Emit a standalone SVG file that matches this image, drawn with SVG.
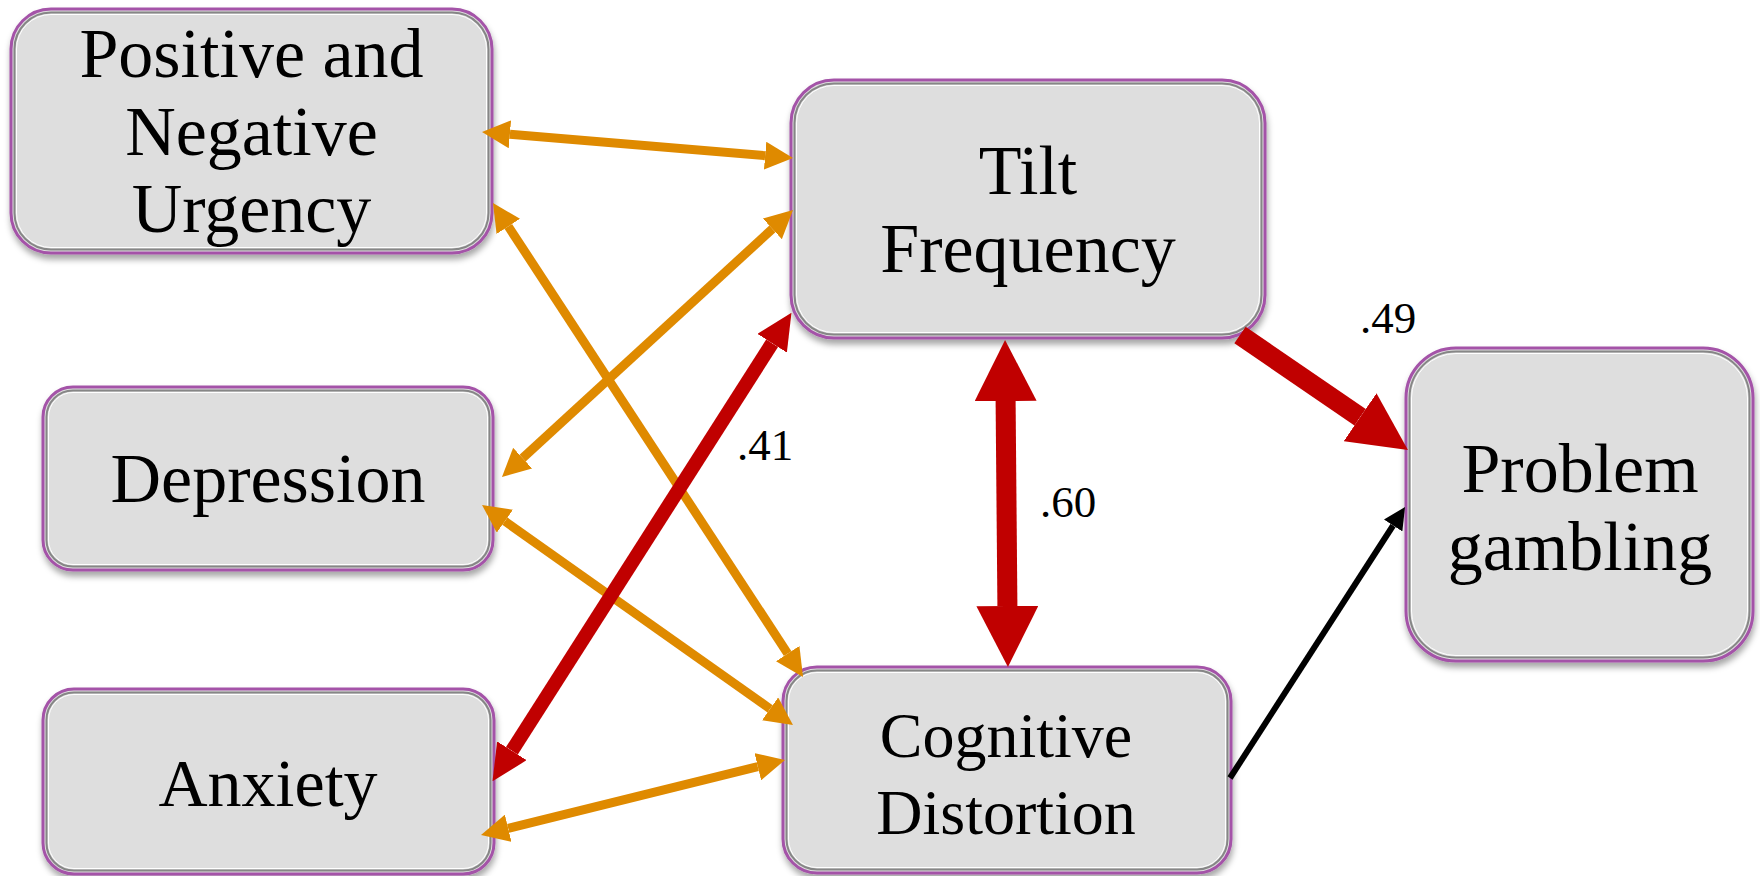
<svg xmlns="http://www.w3.org/2000/svg" width="1760" height="876" viewBox="0 0 1760 876">
<style>
.outer{fill:#dedede;stroke:#a453a8;stroke-width:3}
.inner{fill:none;stroke:#868686;stroke-width:2}
.hl{fill:none;stroke:#ffffff;stroke-width:1}
.lbl{font-family:"Liberation Serif","Times New Roman",serif;font-size:70px;fill:#000;text-anchor:middle}
.num{font-family:"Liberation Serif","Times New Roman",serif;font-size:45px;fill:#000}
.or{stroke:#df8a00;stroke-width:9;fill:none}
</style>
<defs>
<filter id="sh" x="-10%" y="-10%" width="120%" height="130%">
<feDropShadow dx="1" dy="5" stdDeviation="3" flood-color="#000" flood-opacity="0.35"/>
</filter>
<marker id="hO" markerUnits="userSpaceOnUse" markerWidth="28" markerHeight="28" refX="0" refY="14" orient="auto-start-reverse"><path d="M0,0 L28,14 L0,28 z" fill="#df8a00"/></marker>
<marker id="hR" markerUnits="userSpaceOnUse" markerWidth="36" markerHeight="35" refX="0" refY="17.5" orient="auto-start-reverse"><path d="M0,0 L36,17.5 L0,35 z" fill="#c00000"/></marker>
<marker id="hRB" markerUnits="userSpaceOnUse" markerWidth="61" markerHeight="62" refX="0" refY="31" orient="auto-start-reverse"><path d="M0,0 L61,31 L0,62 z" fill="#c00000"/></marker>
<marker id="hRP" markerUnits="userSpaceOnUse" markerWidth="58" markerHeight="58" refX="0" refY="29" orient="auto-start-reverse"><path d="M0,0 L58,29 L0,58 z" fill="#c00000"/></marker>
<marker id="hK" markerUnits="userSpaceOnUse" markerWidth="22" markerHeight="22" refX="0" refY="11" orient="auto-start-reverse"><path d="M0,0 L22,11 L0,22 z" fill="#000"/></marker>
</defs>
<rect width="1760" height="876" fill="#fff"/>

<g id="node-urgency" filter="url(#sh)">
<rect class="outer" x="11" y="9" width="481" height="244" rx="40"/>
<rect class="inner" x="14.5" y="12.5" width="474" height="237" rx="36.5"/>
<rect class="hl" x="16.5" y="14.5" width="470" height="233" rx="34.5"/>
<text class="lbl" x="251.5" y="77">Positive and</text>
<text class="lbl" x="251.5" y="155">Negative</text>
<text class="lbl" x="251.5" y="232">Urgency</text>
</g>

<g id="node-tilt" filter="url(#sh)">
<rect class="outer" x="791" y="80" width="474" height="258" rx="43"/>
<rect class="inner" x="794.5" y="83.5" width="467" height="251" rx="39.5"/>
<rect class="hl" x="796.5" y="85.5" width="463" height="247" rx="37.5"/>
<text class="lbl" x="1028" y="194">Tilt</text>
<text class="lbl" x="1028" y="272">Frequency</text>
</g>

<g id="node-depression" filter="url(#sh)">
<rect class="outer" x="43" y="387" width="450" height="183" rx="30"/>
<rect class="inner" x="46.5" y="390.5" width="443" height="176" rx="26.5"/>
<rect class="hl" x="48.5" y="392.5" width="439" height="172" rx="24.5"/>
<text class="lbl" x="268" y="502">Depression</text>
</g>

<g id="node-anxiety" filter="url(#sh)">
<rect class="outer" x="43" y="689" width="451" height="185" rx="31"/>
<rect class="inner" x="46.5" y="692.5" width="444" height="178" rx="27.5"/>
<rect class="hl" x="48.5" y="694.5" width="440" height="174" rx="25.5"/>
<text class="lbl" x="268" y="806" style="font-size:68px">Anxiety</text>
</g>

<g id="node-cognitive" filter="url(#sh)">
<rect class="outer" x="783" y="667" width="448" height="206" rx="34"/>
<rect class="inner" x="786.5" y="670.5" width="441" height="199" rx="30.5"/>
<rect class="hl" x="788.5" y="672.5" width="437" height="195" rx="28.5"/>
<text class="lbl" x="1006" y="757" style="font-size:64px">Cognitive</text>
<text class="lbl" x="1006" y="834" style="font-size:64px">Distortion</text>
</g>

<g id="node-problem" filter="url(#sh)">
<rect class="outer" x="1406" y="348" width="347" height="313" rx="50"/>
<rect class="inner" x="1409.5" y="351.5" width="340" height="306" rx="46.5"/>
<rect class="hl" x="1411.5" y="353.5" width="336" height="302" rx="44.5"/>
<text class="lbl" x="1580" y="492">Problem</text>
<text class="lbl" x="1580" y="570">gambling</text>
</g>

<g id="connectors">
<line class="or" x1="509.9" y1="134.3" x2="765.1" y2="155.7" marker-start="url(#hO)" marker-end="url(#hO)"/>
<line class="or" x1="508.3" y1="226.4" x2="787.7" y2="653.6" marker-start="url(#hO)" marker-end="url(#hO)"/>
<line class="or" x1="522.6" y1="458.1" x2="772.4" y2="228.9" marker-start="url(#hO)" marker-end="url(#hO)"/>
<line class="or" x1="504.9" y1="521.2" x2="770.1" y2="708.8" marker-start="url(#hO)" marker-end="url(#hO)"/>
<line class="or" x1="508.2" y1="828.3" x2="757.8" y2="766.7" marker-start="url(#hO)" marker-end="url(#hO)"/>
<line x1="511.9" y1="750.8" x2="772.1" y2="343.2" stroke="#c00000" stroke-width="14" marker-start="url(#hR)" marker-end="url(#hR)"/>
<line x1="1005.6" y1="401" x2="1007.4" y2="606" stroke="#c00000" stroke-width="20" marker-start="url(#hRB)" marker-end="url(#hRB)"/>
<line x1="1240" y1="335" x2="1360.1" y2="417.2" stroke="#c00000" stroke-width="20" marker-end="url(#hRP)"/>
<line x1="1230" y1="778" x2="1393.1" y2="525.5" stroke="#000" stroke-width="6" marker-end="url(#hK)"/>
</g>

<g id="labels">
<text class="num" x="1360" y="333">.49</text>
<text class="num" x="737" y="460">.41</text>
<text class="num" x="1040" y="517">.60</text>
</g>
</svg>
